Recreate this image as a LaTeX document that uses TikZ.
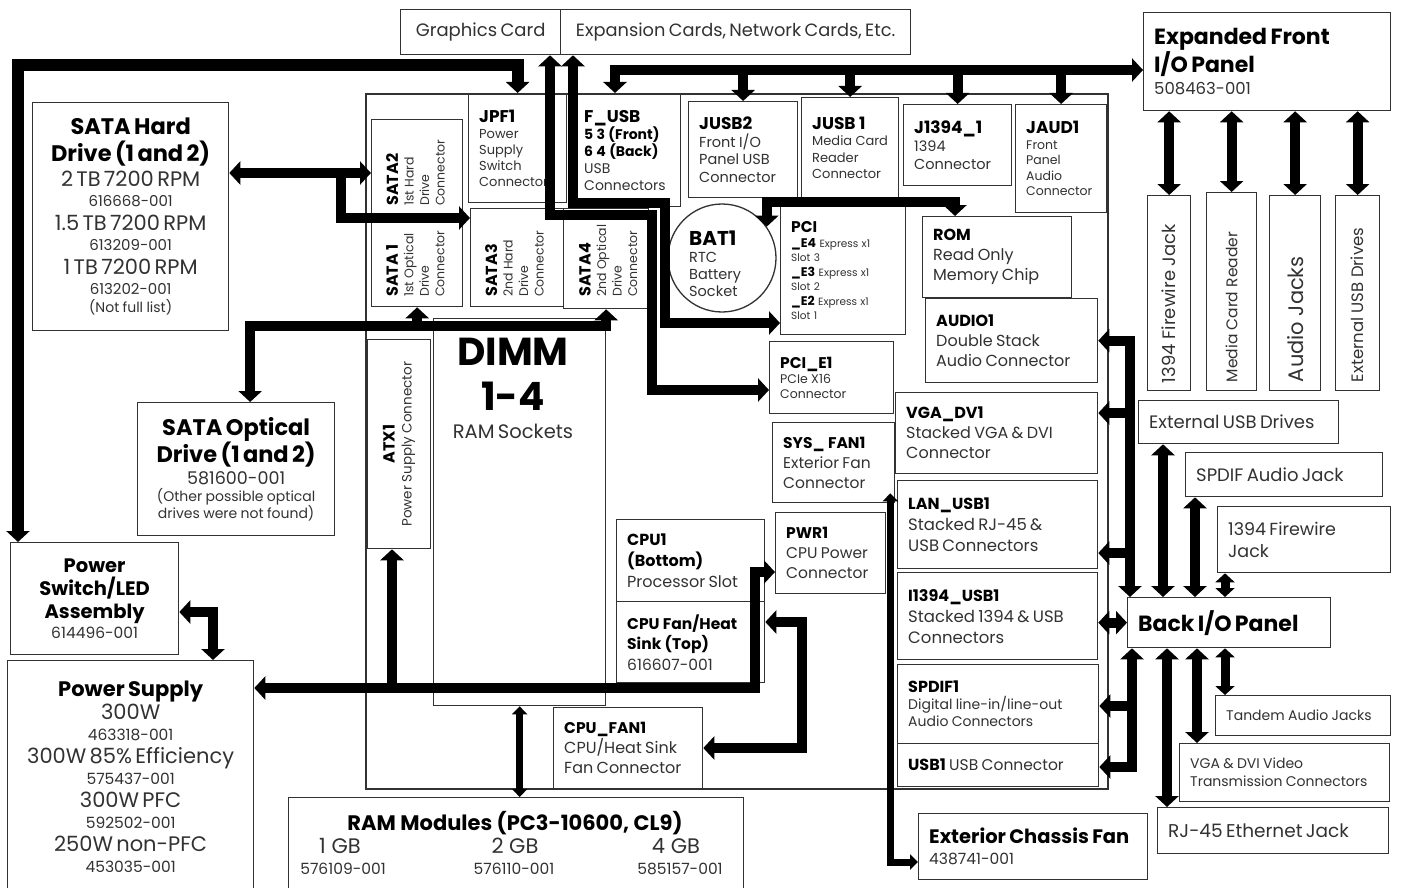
\documentclass[tikz,border=0pt]{standalone}
\usepackage{fontspec}
\setmainfont{Poppins}
\usetikzlibrary{arrows.meta,positioning}

\newcommand\fsz[2]{\fontsize{#1}{#2}\selectfont}
\newcommand\hd[1]{\textcolor{black}{\bfseries #1}}
\newcommand\pcb[5]{%
  \node (#1) at (#2) [part, minimum width=#3, minimum height=#4] {};
  \node (#1-t) at ([xshift=11]#1.west) [ltext] {#5\par};}
\newcommand\pcbc[5]{%
  \node (#1) at (#2) [part, minimum width=#3, minimum height=#4] {};
  \node (#1-t) at (#1.center) [ctext] {#5\par};}

\tikzset{
  part/.style={draw=ink, line width=1.3pt, anchor=north west, inner sep=0pt},
  ltext/.style={anchor=west, text width=300pt, align=left, inner sep=0pt, text=ink},
  ctext/.style={anchor=center, text width=500pt, align=center, inner sep=0pt, text=ink},
  vtext/.style={rotate=90, anchor=north west, text width=260pt, align=left, inner sep=0pt, text=ink},
  vlabel/.style={rotate=90, anchor=west, inner sep=0pt, text=ink},
  Big/.tip={Triangle[width=23pt,length=11pt]},
  Mid/.tip={Triangle[width=19pt,length=9pt]},
  Small/.tip={Triangle[width=15pt,length=8pt]},
  bus/.style={line width=10pt, Big-Big},
  tap/.style={line width=10pt, -Big},
  stub/.style={line width=9pt, Mid-Mid},
  lead/.style={line width=6.5pt, Small-Small},
}

\begin{document}
\begin{tikzpicture}[x=1pt, y=-1pt]
	\definecolor{ink}{RGB}{50,50,50}
	\useasboundingbox (0,0) rectangle (1403,888);
	\fill[white] (0,0) rectangle (1403,888);

	\pcbc{gfx}{400,9}{160}{45}{\fsz{18}{20}Graphics Card}
	\pcbc{exp}{560,9}{350}{45}{\fsz{17.8}{20}Expansion Cards, Network Cards, Etc.}
	\pcb{front}{1143,12}{247}{98}{\fsz{22}{26}\hd{Expanded Front}\par\hd{I/O Panel}\par\fsz{16.5}{22}508463-001}

	\pcbc{hdd}{32,102}{196}{228}{\fsz{22.5}{27}\hd{SATA Hard}\par\hd{Drive (1 and 2)}\par\fsz{21}{25}2 TB 7200 RPM\par\fsz{15}{20}616668-001\par\fsz{21}{24}1.5 TB 7200 RPM\par\fsz{15}{20}613209-001\par\fsz{21}{24}1 TB 7200 RPM\par\fsz{15}{20}613202-001\par\fsz{14}{18}(Not full list)}
	\pcbc{odd}{137,402}{197}{133}{\fsz{22.5}{27}\hd{SATA Optical}\par\hd{Drive (1 and 2)}\par\fsz{17.5}{22}581600-001\par\fsz{14}{17}(Other possible optical\par drives were not found)}
	\pcbc{psw}{10,542}{168}{112}{\fsz{19.5}{23}\hd{Power}\par\hd{Switch/LED}\par\hd{Assembly}\par\fsz{15.5}{20}614496-001}
	\pcbc{ps}{7,660}{246}{232}{\fsz{21}{24}\hd{Power Supply}\par\fsz{21}{23}300W\par\fsz{15.5}{21}463318-001\par\fsz{21}{23}300W 85\% Efficiency\par\fsz{15.5}{21}575437-001\par\fsz{21}{23}300W PFC\par\fsz{15.5}{21}592502-001\par\fsz{21}{23}250W non-PFC\par\fsz{15.5}{21}453035-001}

	\node (ram) at (288,797) [part, minimum width=455, minimum height=96] {};
	\node (ram-t) at (515,830) [anchor=base, inner sep=0pt] {\fsz{21}{22}\hd{RAM Modules (PC3-10600, CL9)}};
	\node (ram1) at (340,853) [anchor=base, inner sep=0pt, text=ink] {\fsz{21}{22}1 GB};
	\node (ram1n) at (343,874) [anchor=base, inner sep=0pt, text=ink] {\fsz{15.5}{18}576109-001};
	\node (ram2) at (515,853) [anchor=base, inner sep=0pt, text=ink] {\fsz{21}{22}2 GB};
	\node (ram2n) at (514,874) [anchor=base, inner sep=0pt, text=ink] {\fsz{15.5}{18}576110-001};
	\node (ram4) at (676,853) [anchor=base, inner sep=0pt, text=ink] {\fsz{21}{22}4 GB};
	\node (ram4n) at (680,874) [anchor=base, inner sep=0pt, text=ink] {\fsz{15.5}{18}585157-001};

	\node (mobo) at (365,93) [part, line width=1.8pt, minimum width=742, minimum height=695] {};

	\pcb{jpf}{468,93}{98}{109}{\fsz{17}{19}\hd{JPF1}\par\fsz{13}{16}Power\par Supply\par Switch\par Connector}
	\pcb{fusb}{573,93}{107}{113}{\fsz{17}{19}\hd{F\_USB}\par\fsz{14}{17}\hd{5 3 (Front)}\par\hd{6 4 (Back)}\par\fsz{14}{17}USB\par Connectors}
	\pcb{jusb2}{688,101}{109}{96}{\fsz{17}{20}\hd{JUSB2}\par\fsz{14.5}{17.5}Front I/O\par Panel USB\par Connector}
	\pcb{jusb1}{801,97}{97}{100}{\fsz{17}{19}\hd{JUSB 1}\par\fsz{13}{16.5}Media Card\par Reader\par Connector}
	\pcb{jfw}{903,104}{108}{81}{\fsz{17}{19}\hd{J1394\_1}\par\fsz{14.5}{18}1394\par Connector}
	\pcb{jaud}{1015,104}{91}{108}{\fsz{17}{19}\hd{JAUD1}\par\fsz{12.5}{15.5}Front\par Panel\par Audio\par Connector}

	\node (sata2) at (371,119) [part, minimum width=91, minimum height=103] {};
	\node (sata2-t) at (386,206) [vtext] {\fsz{16}{18}\hd{SATA2}\par\fsz{12.5}{15.5}1st Hard\par Drive\par Connector\par};
	\node (sata1) at (371,222) [part, minimum width=91, minimum height=84] {};
	\node (sata1-t) at (386,297) [vtext] {\fsz{16}{18}\hd{SATA 1}\par\fsz{12.5}{15.5}1st Optical\par Drive\par Connector\par};
	\node (sata3) at (470,208) [part, minimum width=93, minimum height=98] {};
	\node (sata3-t) at (485,297) [vtext] {\fsz{16}{18}\hd{SATA3}\par\fsz{12.5}{15.5}2nd Hard\par Drive\par Connector\par};
	\node (sata4) at (563,208) [part, minimum width=85, minimum height=100] {};
	\node (sata4-t) at (579,297) [vtext] {\fsz{16}{18}\hd{SATA4}\par\fsz{12.5}{15.5}2nd Optical\par Drive\par Connector\par};

	\node (bat) at (722,258) [draw=ink, line width=1.3pt, circle, inner sep=0pt, minimum size=108] {};
	\node (bat-t) at (689,264) [ltext] {\fsz{20}{21}\hd{BAT1}\par\fsz{14.5}{17}RTC\par Battery\par Socket\par};

	\pcb{pci}{780,206}{125}{128}{\fsz{15.5}{18}\hd{PCI}\par\fsz{10.5}{14.5}{\fsz{12.5}{14.5}\hd{\_E4}} Express x1\par Slot 3\par{\fsz{12.5}{14.5}\hd{\_E3}} Express x1\par Slot 2\par{\fsz{12.5}{14.5}\hd{\_E2}} Express x1\par Slot 1}
	\pcb{rom}{922,216}{149}{81}{\fsz{16}{20}\hd{ROM}\par\fsz{16}{20}Read Only\par Memory Chip}
	\pcb{audio}{925,298}{172}{84}{\fsz{16}{20}\hd{AUDIO1}\par\fsz{16}{20}Double Stack\par Audio Connector}
	\pcb{pcie1}{769,341}{124}{72}{\fsz{15.5}{18}\hd{PCI\_E1}\par\fsz{12.5}{15}PCIe X16\par Connector}
	\pcb{vga}{895,392}{202}{81}{\fsz{16}{20}\hd{VGA\_DV1}\par\fsz{16}{20}Stacked VGA \& DVI\par Connector}
	\pcb{sysfan}{772,422}{122}{80}{\fsz{15.5}{19}\hd{SYS\_ FAN1}\par\fsz{15.5}{20}Exterior Fan\par Connector}
	\pcb{lan}{897,480}{200}{88}{\fsz{16}{21}\hd{LAN\_USB1}\par\fsz{16.5}{21}Stacked RJ-45 \&\par USB Connectors}
	\pcb{pwr}{775,512}{110}{81}{\fsz{15.5}{19}\hd{PWR1}\par\fsz{15.5}{20}CPU Power\par Connector}
	\pcb{iusb}{897,572}{200}{87}{\fsz{16}{21}\hd{I1394\_USB1}\par\fsz{16.5}{21}Stacked 1394 \& USB\par Connectors}
	\pcb{spdif}{897,664}{201}{79}{\fsz{16}{19}\hd{SPDIF1}\par\fsz{14}{17}Digital line-in/line-out\par Audio Connectors}
	\pcb{usb}{897,743}{201}{43}{\fsz{16}{19}\hd{USB1} \fsz{15.5}{19}USB Connector}
	\pcb{cpu}{616,519}{148}{82}{\fsz{16}{21}\hd{CPU1}\par\hd{(Bottom)}\par\fsz{16}{21}Processor Slot}
	\pcb{cpuf}{616,601}{148}{81}{\fsz{15.5}{20}\hd{CPU Fan/Heat}\par\hd{Sink (Top)}\par\fsz{15.5}{21}616607-001}
	\pcb{cpufan}{553,707}{149}{81}{\fsz{15.5}{19}\hd{CPU\_FAN1}\par\fsz{16}{20}CPU/Heat Sink\par Fan Connector}

	\node (atx) at (367,339) [part, minimum width=63, minimum height=209] {};
	\node (atx-t) at (atx.center) [vtext, anchor=center, align=center] {\fsz{16}{19}\hd{ATX1}\par\fsz{13.5}{17}Power Supply Connector\par};
	\node (dimm) at (433,318) [part, minimum width=172, minimum height=387] {};
	\node (dimm-t) at (513,338) [ctext, anchor=north] {\fsz{39}{45}\hd{DIMM}\par\hd{1-4}\par\fsz{19.5}{28}RAM Sockets\par};

	\node (fw1) at (1147,195) [part, minimum width=43, minimum height=195] {};
	\node (fw1-t) at ([yshift=8]fw1.south) [vlabel] {\fsz{18}{20}1394 Firewire Jack};
	\node (mcr) at (1206,192) [part, minimum width=50, minimum height=198] {};
	\node (mcr-t) at ([yshift=9]mcr.south) [vlabel] {\fsz{15.5}{18}Media Card Reader};
	\node (aj) at (1269,195) [part, minimum width=51, minimum height=195] {};
	\node (aj-t) at ([yshift=9]aj.south) [vlabel] {\fsz{21}{24}Audio Jacks};
	\node (eud) at (1335,195) [part, minimum width=44, minimum height=195] {};
	\node (eud-t) at ([yshift=9]eud.south) [vlabel] {\fsz{16.5}{19}External USB Drives};

	\pcb{eusb}{1138,400}{200}{43}{\fsz{18}{20}External USB Drives}
	\pcb{spdj}{1185,452}{197}{44}{\fsz{18}{20}SPDIF Audio Jack}
	\pcb{fwj}{1217,506}{173}{66}{\fsz{17.5}{22}1394 Firewire\par Jack}
	\pcb{bio}{1127,597}{203}{50}{\fsz{22}{24}\hd{Back I/O Panel}}
	\pcb{tand}{1215,695}{175}{40}{\fsz{14}{17}Tandem Audio Jacks}
	\pcb{vgadvi}{1179,743}{210}{58}{\fsz{14}{18}VGA \& DVI Video\par Transmission Connectors}
	\pcb{rj}{1157,807}{231}{46}{\fsz{18.5}{20}RJ-45 Ethernet Jack}
	\pcb{xfan}{918,813}{229}{66}{\fsz{19.5}{22}\hd{Exterior Chassis Fan}\par\fsz{15.5}{21}438741-001}

	\draw[bus, line width=12pt] ([xshift=8]psw.north west) -- ++(0,-477) -| (jpf.north);
	\draw[bus] (psw.east |- 0,612) -| (ps.north -| 213,0);
	\draw[bus] (hdd.east |- 0,173) -- (sata2.west |- 0,173);
	\coordinate (hddj) at (341,173);
	\draw[tap] (hddj) |- (sata3.west |- 0,218);
	\draw[bus] ([xshift=14]odd.north) |- (sata4.south |- 0,326) -- (sata4.south);
	\draw[tap] (sata1.south |- 0,326) -- (sata1.south);
	\draw[bus] (gfx.south -| 550,0) |- (652,215) |- (pcie1.west |- 0,390);
	\draw[bus] (exp.south -| 573,0) |- (665,203) |- (pci.west |- 0,323);
	\draw[bus] (fusb.north -| 615,0) |- (front.west |- 0,70);
	\foreach \n in {jusb2,jusb1,jfw,jaud}
		\draw[tap] (\n.north |- 0,70) -- (\n.north);
	\draw[bus] (bat.35) |- (955,202) -- (rom.north -| 955,0);

	\draw[bus] (audio.east) -| (bio.north -| 1130,0);
	\draw[tap] (1130,413) -- (vga.east |- 0,413);
	\draw[tap] (1130,553) -- (lan.east |- 0,553);
	\draw[bus] (iusb.east |- bio.west) -- (bio.west);
	\draw[bus] (bio.south -| 1132,0) |- (usb.east |- 0,767);
	\draw[tap] (1132,706) -- (spdif.east |- 0,706);

	\foreach \n in {fw1,mcr,aj,eud}
		\draw[bus] (front.south -| \n.north) -- (\n.north);
	\draw[bus] (eusb.south -| 1163,0) -- (bio.north -| 1163,0);
	\draw[bus] (spdj.south -| 1195,0) -- (bio.north -| 1195,0);
	\draw[stub] (fwj.south -| 1225,0) -- (bio.north -| 1225,0);
	\draw[bus] (bio.south -| 1167,0) -- (rj.north -| 1167,0);
	\draw[bus] (bio.south -| 1197,0) -- (vgadvi.north -| 1197,0);
	\draw[stub] (bio.south -| 1225,0) -- (tand.north -| 1225,0);

	\draw[bus] (ps.east |- 0,688) -| (755,572) -- (pwr.west |- 0,572);
	\draw[tap] (392,688) -- (atx.south -| 392,0);
	\draw[bus] (cpuf.east |- 0,622) -| (802,748) -- (cpufan.east |- 0,748);
	\draw[lead] (dimm.south) -- (dimm.south |- ram.north);
	\draw[lead, line width=7pt] ([xshift=-5,yshift=10]sysfan.south east) |- (xfan.west |- 0,862);
\end{tikzpicture}
\end{document}
